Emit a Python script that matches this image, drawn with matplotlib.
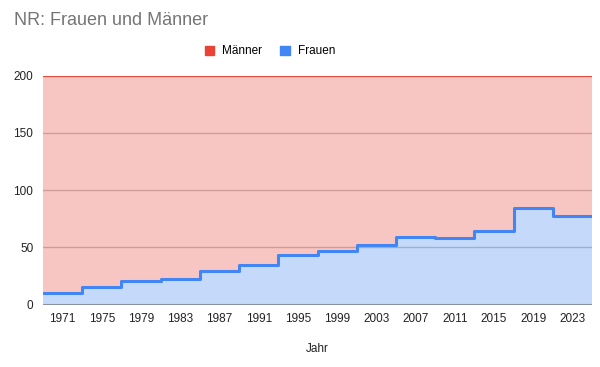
import numpy as np
import matplotlib
matplotlib.use("Agg")
from matplotlib import pyplot as plt
from matplotlib.patches import Patch

plt.rcParams["font.family"] = ["Liberation Sans", "DejaVu Sans"]

years = ["1971", "1975", "1979", "1983", "1987", "1991", "1995",
         "1999", "2003", "2007", "2011", "2015", "2019", "2023"]
frauen = [10, 15, 21, 22, 29, 35, 43, 47, 52, 59, 58, 64, 84, 77]
maenner = [190, 185, 179, 178, 171, 165, 157, 153, 148, 141, 142, 136, 116, 123]

red = "#ea4335"
blue = "#4285f4"

frauen = np.array(frauen)
total = frauen + np.array(maenner)
edges = np.arange(len(years) + 1) - 0.5

fig = plt.figure(figsize=(6, 3.67), dpi=100)
ax = fig.add_axes([0.0717, 0.170, 0.915, 0.624])

# stacked stepped areas
ax.stairs(frauen, edges, baseline=0, fill=True, color=blue, alpha=0.3, lw=0, zorder=2)
ax.stairs(total, edges, baseline=frauen, fill=True, color=red, alpha=0.3, lw=0, zorder=2)
top = ax.stairs(total, edges, baseline=None, color=red, lw=1.3, zorder=3)
line = ax.stairs(frauen, edges, baseline=None, color=blue, lw=2.2, zorder=4)
line.set_joinstyle("round")
line.set_capstyle("round")

ax.axhline(0, color="#8a909c", lw=1.5, zorder=5)

ax.set_xlim(edges[0], edges[-1])
ax.set_ylim(0, 200)
ax.set_xticks(range(len(years)))
ax.set_xticklabels(years)
ax.set_yticks([0, 50, 100, 150, 200])
ax.tick_params(length=0, labelsize=8.5, colors="#222222", pad=6)
ax.tick_params(axis="y", pad=7)
ax.grid(axis="y", color="#c4c4c4", lw=1)
ax.set_axisbelow(True)
for s in ax.spines.values():
    s.set_visible(False)

ax.set_xlabel("Jahr", fontsize=8.5, color="#222222", labelpad=13)

fig.text(0.023, 0.943, "NR: Frauen und Männer", fontsize=13, color="#757575",
         ha="left", va="center")

handles = [Patch(facecolor=red, edgecolor=red), Patch(facecolor=blue, edgecolor=blue)]
fig.legend(handles, ["Männer", "Frauen"], loc="center", bbox_to_anchor=(0.45, 0.86),
           ncol=2, frameon=False, fontsize=8.5, handlelength=0.8, handleheight=0.8,
           handletextpad=0.7, columnspacing=1.5)

fig.savefig("out.png", dpi=100)
